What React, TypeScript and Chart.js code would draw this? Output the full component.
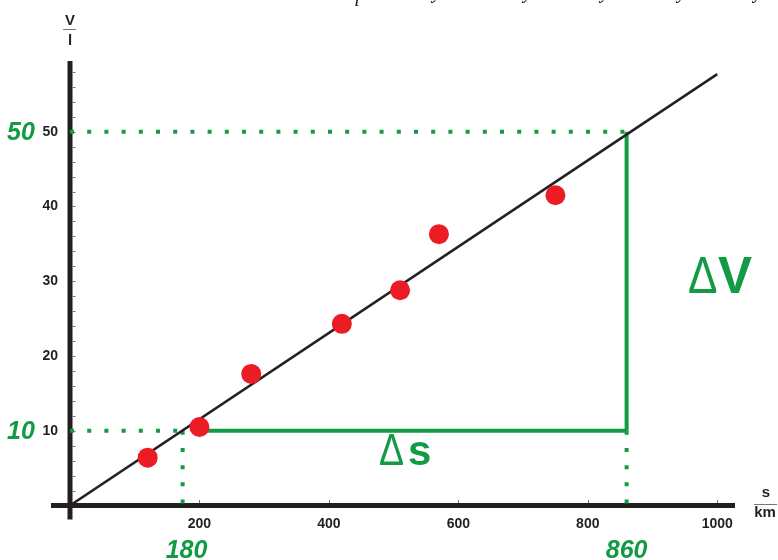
import React, { useEffect, useRef } from "react";
import { Chart, registerables } from "chart.js";
Chart.register(...registerables);

// measured points: distance s (km) vs voltage V (l)
const distanceKm = [120, 200, 280, 420, 510, 570, 750];
const voltage = [6.4, 10.5, 17.6, 24.3, 28.8, 36.3, 41.5];
// fitted straight line through the origin
const fitX = [0, 1000];
const fitY = [0, 57.7];
// axis ticks
const xTicks = [200, 400, 600, 800, 1000];
const yTicks = [10, 20, 30, 40, 50];
// read-off values for the slope triangle
const readLabelsX = ["180", "860"];
const readLabelsXAt = [180, 860];
const readLabelsY = ["10", "50"];
const readLabelsYAt = [10, 50];
const guideXLow = 174; // where the dotted guide meets the line at V = 10
const guideXHigh = 860;
const guideYLow = 10;
const guideYHigh = 50;
const triangleStartX = 200;
const belowAxis = -0.3;

const GREEN = "#129a45";
const RED = "#ec1c24";
const BLACK = "#231f20";

const overlay = {
  id: "overlay",
  beforeDatasetsDraw(chart: any) {
    const { ctx, scales } = chart;
    const x = scales.x;
    const y = scales.y;
    const x0 = x.getPixelForValue(0);
    const y0 = y.getPixelForValue(0);
    ctx.save();
    ctx.fillStyle = BLACK;
    // y axis
    ctx.fillRect(x0 - 2.5, y.top, 5, y0 + 14 - y.top);
    // x axis
    ctx.fillRect(51, y0 - 2.5, x.right - 1 - 51, 5);
    // tick marks
    ctx.strokeStyle = "#777";
    ctx.lineWidth = 1;
    for (let v = 2; v <= 58; v += 2) {
      const py = Math.round(y.getPixelForValue(v)) + 0.5;
      ctx.beginPath();
      ctx.moveTo(x0 + 2.5, py);
      ctx.lineTo(x0 + 5.5, py);
      ctx.stroke();
    }
    xTicks.forEach((v) => {
      const px = Math.round(x.getPixelForValue(v)) + 0.5;
      ctx.beginPath();
      ctx.moveTo(px, y0 - 2.5);
      ctx.lineTo(px, y0 - 5.5);
      ctx.stroke();
    });
    ctx.restore();
  },
  afterDraw(chart: any) {
    const { ctx, scales } = chart;
    const x = scales.x;
    const y = scales.y;
    const x0 = x.getPixelForValue(0);
    ctx.save();
    // axis titles
    ctx.fillStyle = "#231f20";
    ctx.textAlign = "center";
    ctx.textBaseline = "alphabetic";
    ctx.font = "bold 15px 'Liberation Sans', Arial, sans-serif";
    ctx.fillText("V", x0, 24.5);
    ctx.fillText("l", x0, 45);
    ctx.strokeStyle = "#777";
    ctx.lineWidth = 1;
    ctx.beginPath();
    ctx.moveTo(63, 29.5);
    ctx.lineTo(76, 29.5);
    ctx.stroke();

    ctx.fillText("s", 766, 497);
    ctx.fillText("km", 765, 517);
    ctx.beginPath();
    ctx.moveTo(754, 504.5);
    ctx.lineTo(777, 504.5);
    ctx.stroke();

    // clipped text fragments at the very top
    ctx.fillStyle = "#222";
    ctx.font = "italic 20px 'Liberation Serif', serif";
    ctx.textAlign = "center";
    ctx.fillText("l", 357, 6);
    [437, 528, 605, 682, 758].forEach((px) => ctx.fillText("y", px, -2));

    // green read-off labels
    ctx.fillStyle = GREEN;
    ctx.font = "italic bold 25px 'Liberation Sans', Arial, sans-serif";
    ctx.textAlign = "left";
    ctx.textBaseline = "middle";
    readLabelsY.forEach((t, i) => {
      ctx.fillText(t, 7, y.getPixelForValue(readLabelsYAt[i]) + 1);
    });
    ctx.textAlign = "center";
    ctx.textBaseline = "alphabetic";
    readLabelsX.forEach((t, i) => {
      ctx.fillText(t, x.getPixelForValue(readLabelsXAt[i]), 558);
    });

    // Delta V
    ctx.save();
    ctx.translate(688, 293);
    ctx.scale(0.85, 1);
    ctx.textAlign = "left";
    ctx.font = "52px 'Liberation Sans', Arial, sans-serif";
    ctx.fillText("\u0394", 0, 0);
    ctx.restore();
    ctx.textAlign = "left";
    ctx.font = "bold 51px 'Liberation Sans', Arial, sans-serif";
    ctx.fillText("V", 718, 293);

    // Delta s
    ctx.save();
    ctx.translate(379, 465);
    ctx.scale(0.85, 1);
    ctx.font = "44px 'Liberation Sans', Arial, sans-serif";
    ctx.fillText("\u0394", 0, 0);
    ctx.restore();
    ctx.font = "bold 42px 'Liberation Sans', Arial, sans-serif";
    ctx.fillText("s", 408, 465);
    ctx.restore();
  },
};

const tickFont = { family: "'Liberation Sans', Arial, sans-serif", size: 14, weight: "bold" };

export default function App() {
  const ref = useRef<HTMLCanvasElement>(null);
  useEffect(() => {
    if (!ref.current) return;
    const dotted = { borderColor: GREEN, borderWidth: 4, borderDash: [4, 13.2], borderCapStyle: "butt", pointRadius: 0, clip: false, order: 3, type: "line" };
    const solid = { borderColor: GREEN, borderWidth: 4, borderCapStyle: "butt", pointRadius: 0, clip: false, order: 3, type: "line" };
    const chart = new Chart(ref.current, {
      type: "scatter",
      data: {
        datasets: [
          {
            data: distanceKm.map((s, i) => ({ x: s, y: voltage[i] })),
            backgroundColor: RED,
            borderWidth: 0,
            pointRadius: 10,
            order: 0,
          },
          {
            type: "line",
            data: fitX.map((s, i) => ({ x: s, y: fitY[i] })),
            borderColor: BLACK,
            borderWidth: 2.5,
            pointRadius: 0,
            order: 1,
          },
          { ...dotted, data: [{ x: 0, y: guideYHigh }, { x: guideXHigh, y: guideYHigh }] },
          { ...dotted, data: [{ x: 0, y: guideYLow }, { x: guideXLow, y: guideYLow }] },
          { ...dotted, data: [{ x: guideXLow, y: guideYLow }, { x: guideXLow, y: belowAxis }] },
          { ...dotted, data: [{ x: guideXHigh, y: guideYLow }, { x: guideXHigh, y: belowAxis }] },
          { ...solid, data: [{ x: triangleStartX, y: guideYLow }, { x: guideXHigh, y: guideYLow }] },
          { ...solid, data: [{ x: guideXHigh, y: guideYHigh }, { x: guideXHigh, y: guideYLow }] },
        ] as any,
      },
      options: {
        animation: false,
        responsive: true,
        maintainAspectRatio: false,
        layout: { padding: { left: 0, right: 42, top: 61, bottom: 0 } },
        plugins: { legend: { display: false }, tooltip: { enabled: false } },
        scales: {
          x: {
            type: "linear",
            min: 0,
            max: 1029,
            grid: { display: false, drawTicks: false },
            border: { display: false },
            afterBuildTicks: (s: any) => {
              s.ticks = xTicks.map((v) => ({ value: v }));
            },
            afterFit: (s: any) => {
              s.height = 54.5;
            },
            ticks: {
              padding: 10,
              color: "#231f20",
              font: tickFont,
              maxRotation: 0,
              callback: (v: any) => String(v),
            },
          },
          y: {
            type: "linear",
            min: 0,
            max: 59.46,
            grid: { display: false, drawTicks: false },
            border: { display: false },
            afterBuildTicks: (s: any) => {
              s.ticks = yTicks.map((v) => ({ value: v }));
            },
            afterFit: (s: any) => {
              s.width = 70;
            },
            ticks: {
              padding: 12,
              color: "#231f20",
              font: tickFont,
              callback: (v: any) => String(v),
            },
          },
        },
      },
      plugins: [overlay],
    } as any);
    return () => chart.destroy();
  }, []);
  return (
    <div style={{ position: "fixed", left: 0, top: 0, width: 778, height: 560, background: "#fff" }}>
      <canvas ref={ref} />
    </div>
  );
}
